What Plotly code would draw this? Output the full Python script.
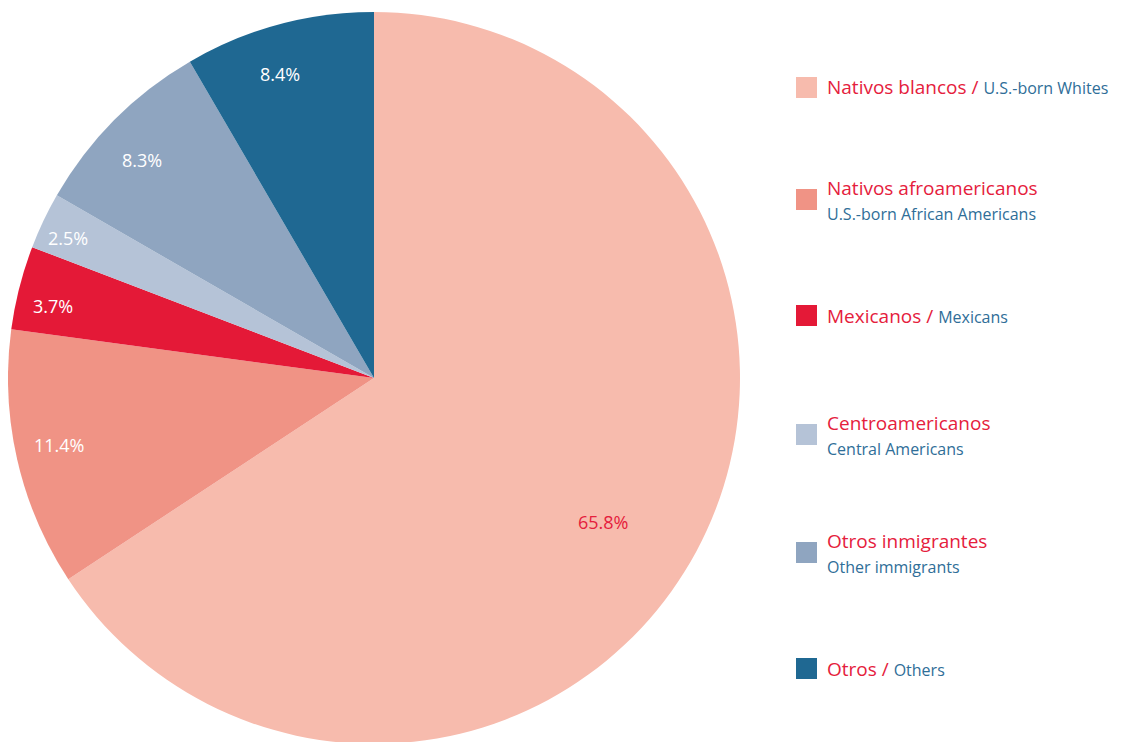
import math
import plotly.graph_objects as go

# datos (orden horario desde las 12)
grupos_es = ["Nativos blancos", "Nativos afroamericanos", "Mexicanos",
             "Centroamericanos", "Otros inmigrantes", "Otros"]
grupos_en = ["U.S.-born Whites", "U.S.-born African Americans", "Mexicans",
             "Central Americans", "Other immigrants", "Others"]
porcentajes = [65.8, 11.4, 3.7, 2.5, 8.3, 8.4]
colores = ["#F7BBAD", "#F09385", "#E41937", "#B5C3D7", "#8FA5C0", "#1F6892"]
color_texto = ["#E5203C", "white", "white", "white", "white", "white"]
dos_lineas = [False, True, False, True, True, False]
# donde va la etiqueta: fraccion del radio y giro (grados) respecto al centro de la porcion
radio_etiqueta = [0.74, 0.88, 0.9, 0.92, 0.87, 0.87]
giro_etiqueta = [3.8, 0.8, -1.7, -0.9, -1.6, -2.1]

rojo = "#E5203C"
azul = "#2F6E98"
fuente = "Open Sans"
W, H = 1122, 742
# la pagina tiene 8px de margen, todo va corrido
cx, cy, r = 366, 370, 366

fig = go.Figure()

fig.add_trace(go.Pie(
    labels=grupos_es,
    values=porcentajes,
    sort=False,
    direction="clockwise",
    rotation=0,
    marker=dict(colors=colores, line=dict(width=0)),
    textinfo="none",
    hoverinfo="label+value",
    showlegend=False,
    domain=dict(x=[0, 2 * cx / W], y=[(H - cy - r) / H, (H - cy + r) / H]),
))

# etiquetas de porcentaje
total = sum(porcentajes)
acum = 0
for v, c, f, g in zip(porcentajes, color_texto, radio_etiqueta, giro_etiqueta):
    ang = 2 * math.pi * (acum + v / 2) / total + math.radians(g)
    acum += v
    px = cx + f * r * math.sin(ang)
    py = cy - f * r * math.cos(ang)
    fig.add_annotation(x=px / W, y=1 - py / H, xref="paper", yref="paper",
                       text=f"{v:.1f}%", showarrow=False,
                       xanchor="center", yanchor="middle",
                       font=dict(family=fuente, size=18, color=c))

# leyenda hecha a mano
pos_y = [79.5, 191.5, 307.5, 426.5, 544.5, 660.5]
for es, en, col, py, dl in zip(grupos_es, grupos_en, colores, pos_y, dos_lineas):
    fig.add_shape(type="rect", xref="paper", yref="paper",
                  x0=788 / W, x1=809 / W,
                  y0=1 - (py + 10.5) / H, y1=1 - (py - 10.5) / H,
                  fillcolor=col, line=dict(width=0))
    if dl:
        txt = (f"<span style='color:{rojo}'>{es}</span><br>"
               f"<span style='color:{azul};font-size:16px'>{en}</span>")
    else:
        txt = (f"<span style='color:{rojo}'>{es} / </span>"
               f"<span style='color:{azul};font-size:16px'>{en}</span>")
    fig.add_annotation(x=817 / W, y=1 - py / H, xref="paper", yref="paper",
                       text=txt, showarrow=False, xanchor="left", yanchor="middle",
                       align="left", font=dict(family=fuente, size=19, color=rojo))

fig.update_layout(width=W, height=H,
                  margin=dict(l=0, r=0, t=0, b=0),
                  paper_bgcolor="white", plot_bgcolor="white")

fig.write_html("out.html")
